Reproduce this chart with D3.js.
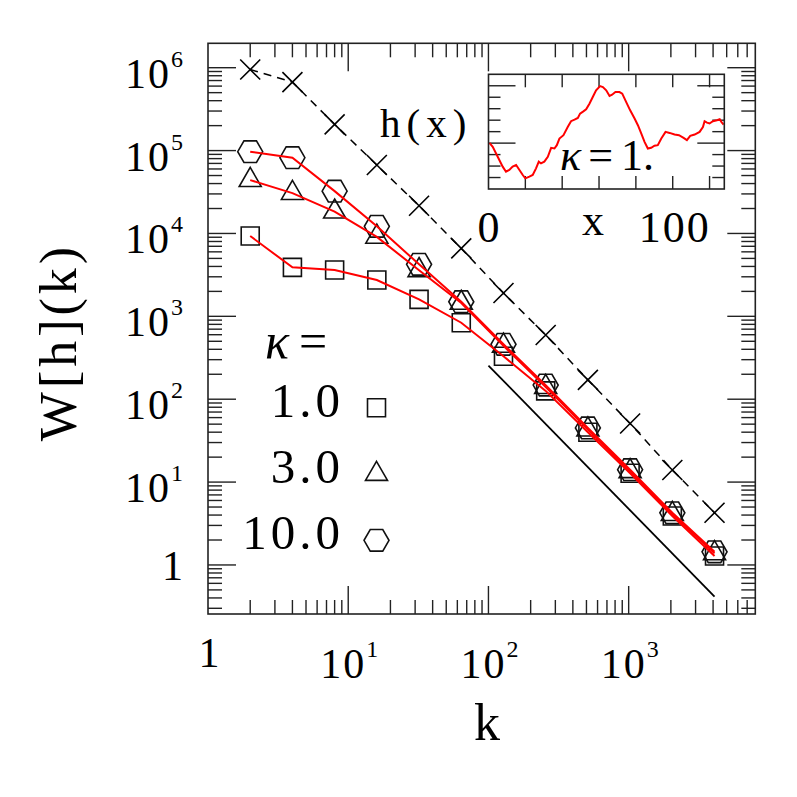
<!DOCTYPE html>
<html lang="en">
<head>
<meta charset="UTF-8">
<script src="https://d3js.org/d3.v7.min.js"></script>
<title>W[h](k)</title>
<style>body{margin:0;background:#fff}</style>
</head>
<body>
<script>
// wavenumbers k (powers of two)
const kVals = [2, 4, 8, 16, 32, 64, 128, 256, 512, 1024, 2048, 4096];
// dashed series (crosses)
const wCross = [9.5e5, 6.7e5, 2.07e5, 6.7e4, 2.16e4, 6.6e3, 1.91e3, 595, 171, 51, 14, 4.27];
// kappa = 1.0 (squares), 3.0 (triangles), 10.0 (hexagons)
const wKappa1 = [9.3e3, 3.9e3, 3.62e3, 2.74e3, 1.6e3, 837, 330, 126, 40, 12.8, 3.9, 1.28];
const wKappa3 = [4.4e4, 3.07e4, 1.83e4, 9.1e3, 3.6e3, 1.45e3, 440, 140, 43, 13.5, 4.1, 1.38];
const wKappa10 = [9.7e4, 8.2e4, 3.24e4, 1.22e4, 4.24e3, 1.5e3, 460, 148, 45, 14.1, 4.26, 1.44];
// straight reference line
const refK = [100, 4096];
const refW = [255, 0.415];
// legend
const legendKappa = ["1.0", "3.0", "10.0"];
// tick label exponents
const xTickExp = [0, 1, 2, 3];
const yTickExp = [0, 1, 2, 3, 4, 5, 6];
// inset profile h(x), kappa = 1
const hX = [0.5, 2.3, 5.0, 7.7, 9.5, 11.3, 13.1, 15.0, 16.8, 18.6, 20.0, 22.2, 24.0, 25.8, 27.3, 28.5,
  30.3, 32.2, 34.0, 35.8, 37.1, 38.5, 40.7, 43.0, 44.8, 46.7, 48.5, 49.7, 51.5, 53.0, 54.8, 56.6,
  58.4, 60.6, 62.1, 63.9, 65.7, 67.1, 68.9, 71.1, 72.6, 74.7, 76.9, 79.3, 81.1, 82.9, 84.7, 86.5,
  88.3, 90.1, 91.9, 93.8, 96.1, 98.3, 101.0, 103.4, 105.9, 107.7, 109.5, 111.9, 114.6, 116.4, 117.3,
  118.6, 120.0, 121.8, 124.0, 125.5, 126.4, 127.6];
const hY = [0.03, -0.32, -1.19, -2.05, -2.49, -2.34, -2.05, -1.91, -2.34, -2.78, -3.07, -2.92, -2.78,
  -2.20, -1.62, -1.77, -1.62, -1.19, -0.41, -0.47, -0.18, 0.40, 0.69, 1.41, 1.91, 2.05, 2.20, 2.57,
  2.77, 2.95, 3.44, 4.02, 4.60, 4.97, 4.89, 4.60, 4.11, 4.22, 4.45, 4.45, 4.31, 3.59, 2.86, 2.14,
  1.56, 0.84, 0.11, -0.47, -0.41, -0.23, -0.18, 0.40, 0.98, 0.89, 0.75, 0.69, 0.46, 0.26, 0.63,
  0.75, 0.98, 1.41, 1.91, 1.79, 1.71, 1.91, 1.99, 2.08, 1.85, 1.62];
const insetXTicks = [0, 20, 40, 60, 80, 100, 120];

const font = "'Liberation Serif', 'Times New Roman', serif";
const pLeft = 208, pRight = 755.3, pTop = 43.3, pBottom = 614;

const svg = d3.select("body").append("svg")
    .attr("width", 797)
    .attr("height", 797);

const x = d3.scaleLog().domain([1, 8000]).range([pLeft, pRight]);
const y = d3.scaleLog().domain([0.256, 1.97e6]).range([pBottom, pTop]);

// symbols
const hexagon = {
    draw(ctx, size) {
        const r = Math.sqrt(size);
        for (let i = 0; i < 6; i++) {
            const a = i * Math.PI / 3;
            if (i === 0) ctx.moveTo(r * Math.cos(a), r * Math.sin(a));
            else ctx.lineTo(r * Math.cos(a), r * Math.sin(a));
        }
        ctx.closePath();
    }
};
const times = {
    draw(ctx, size) {
        const r = Math.sqrt(size);
        ctx.moveTo(-r, -r); ctx.lineTo(r, r);
        ctx.moveTo(-r, r); ctx.lineTo(r, -r);
    }
};
const squareSym = d3.symbol().type(d3.symbolSquare).size(324);
const triSym = d3.symbol().type(d3.symbolTriangle).size(210);
const hexSym = d3.symbol().type(hexagon).size(156);
const timesSym = d3.symbol().type(times).size(100);

// frame
svg.append("rect")
    .attr("x", pLeft).attr("y", pTop)
    .attr("width", pRight - pLeft).attr("height", pBottom - pTop)
    .attr("fill", "none").attr("stroke", "#222").attr("stroke-width", 1.6);

const isMajor = v => Math.abs(Math.log10(v) - Math.round(Math.log10(v))) < 1e-9;

// x ticks
const xt = svg.append("g").attr("stroke", "#222").attr("stroke-width", 1.4);
x.ticks().filter(v => v > 1 && v < 8000).forEach(v => {
    const len = isMajor(v) ? 28 : 14;
    xt.append("line").attr("x1", x(v)).attr("x2", x(v)).attr("y1", pBottom).attr("y2", pBottom - len);
    xt.append("line").attr("x1", x(v)).attr("x2", x(v)).attr("y1", pTop).attr("y2", pTop + len);
});
// y ticks
const yt = svg.append("g").attr("stroke", "#222").attr("stroke-width", 1.4);
y.ticks().filter(v => v > 0.256 && v < 1.97e6).forEach(v => {
    const len = isMajor(v) ? 28 : 14;
    yt.append("line").attr("y1", y(v)).attr("y2", y(v)).attr("x1", pLeft).attr("x2", pLeft + len);
    yt.append("line").attr("y1", y(v)).attr("y2", y(v)).attr("x1", pRight).attr("x2", pRight - len);
});

// x tick labels
xTickExp.forEach(e => {
    const t = svg.append("text")
        .attr("x", x(Math.pow(10, e)) + 2)
        .attr("y", e === 0 ? 667 : 678)
        .attr("text-anchor", "middle")
        .style("font-family", font).style("font-size", "42px").style("letter-spacing", "2px");
    if (e === 0) t.text("1");
    else {
        t.append("tspan").text("10");
        t.append("tspan").attr("dy", -21).style("font-size", "24px").text(e);
    }
});
// y tick labels
yTickExp.forEach(e => {
    const t = svg.append("text")
        .attr("x", 185)
        .attr("y", y(Math.pow(10, e)) + (e === 0 ? 15 : 20))
        .attr("text-anchor", "end")
        .style("font-family", font).style("font-size", "42px").style("letter-spacing", "2px");
    if (e === 0) t.text("1");
    else {
        t.append("tspan").text("10");
        t.append("tspan").attr("dy", -21).style("font-size", "24px").text(e);
    }
});

// axis titles
svg.append("text")
    .attr("transform", "translate(76,342) rotate(-90)")
    .attr("text-anchor", "middle")
    .style("font-family", font).style("font-size", "52px").style("letter-spacing", "4px")
    .text("W[h](k)");
svg.append("text")
    .attr("x", 487).attr("y", 740)
    .attr("text-anchor", "middle")
    .style("font-family", font).style("font-size", "52px")
    .text("k");

// reference line
svg.append("line")
    .attr("x1", x(refK[0])).attr("y1", y(refW[0]))
    .attr("x2", x(refK[1])).attr("y2", y(refW[1]))
    .attr("stroke", "#000").attr("stroke-width", 1.8);

// dashed series
const line = d3.line().x(d => x(d[0])).y(d => y(d[1]));
svg.append("path")
    .attr("d", line(kVals.map((k, i) => [k, wCross[i]])))
    .attr("fill", "none").attr("stroke", "#000").attr("stroke-width", 1.5)
    .attr("stroke-dasharray", "8,6");
svg.selectAll(".cross").data(kVals).enter().append("path")
    .attr("transform", (k, i) => `translate(${x(k)},${y(wCross[i])})`)
    .attr("d", timesSym())
    .attr("fill", "none").attr("stroke", "#000").attr("stroke-width", 1.6);

// kappa series
const series = [
    { w: wKappa1, sym: squareSym },
    { w: wKappa3, sym: triSym },
    { w: wKappa10, sym: hexSym }
];
series.forEach(s => {
    svg.append("g").selectAll("path").data(kVals).enter().append("path")
        .attr("transform", (k, i) => `translate(${x(k)},${y(s.w[i])})`)
        .attr("d", s.sym())
        .attr("fill", "none").attr("stroke", "#111").attr("stroke-width", 1.6);
});
series.forEach(s => {
    svg.append("path")
        .attr("d", line(kVals.map((k, i) => [k, s.w[i]])))
        .attr("fill", "none").attr("stroke", "#ff0000").attr("stroke-width", 2);
});

// legend
svg.append("text")
    .attr("x", 265).attr("y", 358)
    .style("font-family", font).style("font-size", "50px")
    .html('<tspan font-style="italic">κ</tspan><tspan dx="10">=</tspan>');
legendKappa.forEach((lab, i) => {
    const by = 416.7 + i * 66.3;
    svg.append("text")
        .attr("x", 344).attr("y", by)
        .attr("text-anchor", "end")
        .style("font-family", font).style("font-size", "49px").style("letter-spacing", "4px")
        .text(lab);
    svg.append("path")
        .attr("transform", `translate(376.5,${by - 9})`)
        .attr("d", series[i].sym())
        .attr("fill", "none").attr("stroke", "#111").attr("stroke-width", 1.6);
});

// inset
const ix = d3.scaleLinear().domain([0, 128]).range([488.5, 724.3]);
const iy = d3.scaleLinear().domain([-4, 6]).range([189, 74.3]);
const inset = svg.append("g");
inset.append("rect")
    .attr("x", ix(0)).attr("y", iy(6))
    .attr("width", ix(128) - ix(0)).attr("height", iy(-4) - iy(6))
    .attr("fill", "#fff");
const itg = inset.append("g").attr("stroke", "#222").attr("stroke-width", 1.4);
insetXTicks.filter(v => v > 0).forEach(v => {
    itg.append("line").attr("x1", ix(v)).attr("x2", ix(v)).attr("y1", iy(-4)).attr("y2", iy(-4) - 13);
    itg.append("line").attr("x1", ix(v)).attr("x2", ix(v)).attr("y1", iy(6)).attr("y2", iy(6) + 13);
});
d3.range(-3, 6).forEach(v => {
    const len = v % 5 === 0 ? 27 : 12;
    itg.append("line").attr("y1", iy(v)).attr("y2", iy(v)).attr("x1", ix(0)).attr("x2", ix(0) + len);
    itg.append("line").attr("y1", iy(v)).attr("y2", iy(v)).attr("x1", ix(128)).attr("x2", ix(128) - len);
});
inset.append("text")
    .attr("x", 560).attr("y", 170)
    .style("font-family", font).style("font-size", "44px")
    .html('<tspan font-style="italic">κ</tspan><tspan dx="7">=</tspan><tspan dx="8">1.</tspan>');
inset.append("path")
    .attr("d", d3.line().x(d => ix(d[0])).y(d => iy(d[1]))(hX.map((v, i) => [v, hY[i]])))
    .attr("fill", "none").attr("stroke", "#ff0000").attr("stroke-width", 2);
inset.append("rect")
    .attr("x", ix(0)).attr("y", iy(6))
    .attr("width", ix(128) - ix(0)).attr("height", iy(-4) - iy(6))
    .attr("fill", "none").attr("stroke", "#222").attr("stroke-width", 1.6);

// inset axis labels
[0, 100].forEach(v => {
    inset.append("text")
        .attr("x", ix(v) + (v ? 2 : 0)).attr("y", 241.7)
        .attr("text-anchor", "middle")
        .style("font-family", font).style("font-size", "44px").style("letter-spacing", v ? "2px" : "0px")
        .text(v);
});
inset.append("text")
    .attr("x", 593).attr("y", 235)
    .attr("text-anchor", "middle")
    .style("font-family", font).style("font-size", "44px")
    .text("x");
inset.append("text")
    .attr("x", 380).attr("y", 137.3)
    .style("font-family", font).style("font-size", "41px").style("letter-spacing", "6px")
    .text("h(x)");
</script>
</body>
</html>
